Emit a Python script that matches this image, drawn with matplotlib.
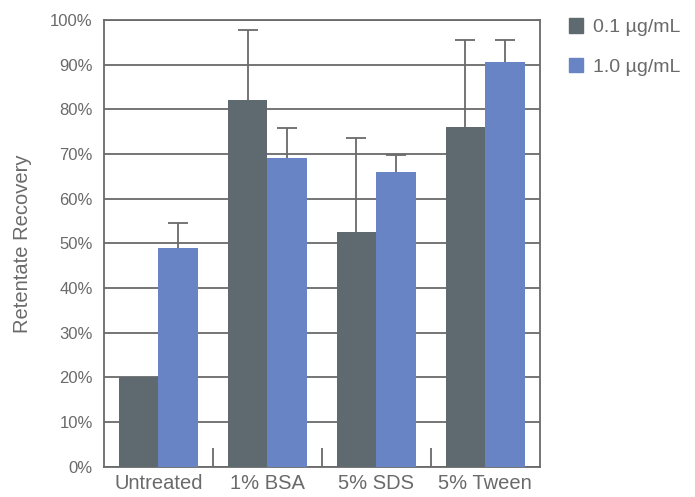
import numpy as np
import matplotlib.pyplot as plt
from matplotlib.patches import Patch

categories = ['Untreated', '1% BSA', '5% SDS', '5% Tween']
series_names = ['0.1 \u00b5g/mL', '1.0 \u00b5g/mL']
low_conc = [20, 82, 52.5, 76]
low_conc_err = [0, 15.8, 21, 19.5]
high_conc = [49, 69, 66, 90.5]
high_conc_err = [5.5, 6.8, 3.8, 5]
y_ticks = [0, 10, 20, 30, 40, 50, 60, 70, 80, 90, 100]

DARK = '#5f6a70'
BLUE = '#6884c5'
LINE = '#6a6a6a'
TEXT = '#6a6a6a'

plt.rcParams['font.family'] = ['Liberation Sans', 'DejaVu Sans']

fig = plt.figure(figsize=(6.95, 4.97), dpi=100)
ax = fig.add_axes([0.1496, 0.061, 0.627, 0.899])

x = np.arange(len(categories))
width = 0.365
err_style = dict(ecolor=LINE, elinewidth=1.3, capsize=7, capthick=1.3)

for offset, vals, errs, col in [(-width / 2, low_conc, low_conc_err, DARK),
                                (width / 2, high_conc, high_conc_err, BLUE)]:
    bars = ax.bar(x + offset, vals, width, color=col, zorder=3,
                  yerr=[np.zeros(len(x)), errs], error_kw=err_style)
    # only the upper cap is wanted
    caps = bars.errorbar.lines[1]
    caps[0].set_visible(False)
    if errs[0] == 0:
        caps[1].set_markevery([i for i in range(len(errs)) if errs[i] > 0])

ax.set_xlim(-0.5, len(categories) - 0.5)
ax.set_ylim(0, 100)
ax.set_yticks(y_ticks)
ax.set_yticklabels([f'{v}%' for v in y_ticks], color=TEXT, fontsize=12)
ax.yaxis.grid(True, color=LINE, linewidth=1.3, zorder=0)
ax.set_axisbelow(True)

ax.set_xticks(x)
ax.set_xticklabels(categories, color=TEXT, fontsize=14.5)
ax.set_xticks(x[:-1] + 0.5, minor=True)
ax.tick_params(axis='x', which='major', length=0, pad=5)
ax.tick_params(axis='x', which='minor', direction='in', length=14, width=1.3, color=LINE)
ax.tick_params(axis='y', length=0, pad=8)

for s in ax.spines.values():
    s.set_color(LINE)
    s.set_linewidth(1.3)

ax.set_ylabel('Retentate Recovery', color=TEXT, fontsize=14.5, labelpad=13)

handles = [Patch(color=DARK), Patch(color=BLUE)]
fig.legend(handles, series_names, loc='upper left', bbox_to_anchor=(0.818, 0.963),
           frameon=False, fontsize=14, labelcolor=TEXT, handlelength=0.75,
           handleheight=0.75, handletextpad=0.5, labelspacing=1.1,
           borderpad=0, borderaxespad=0)

fig.savefig('out.png', dpi=100)
